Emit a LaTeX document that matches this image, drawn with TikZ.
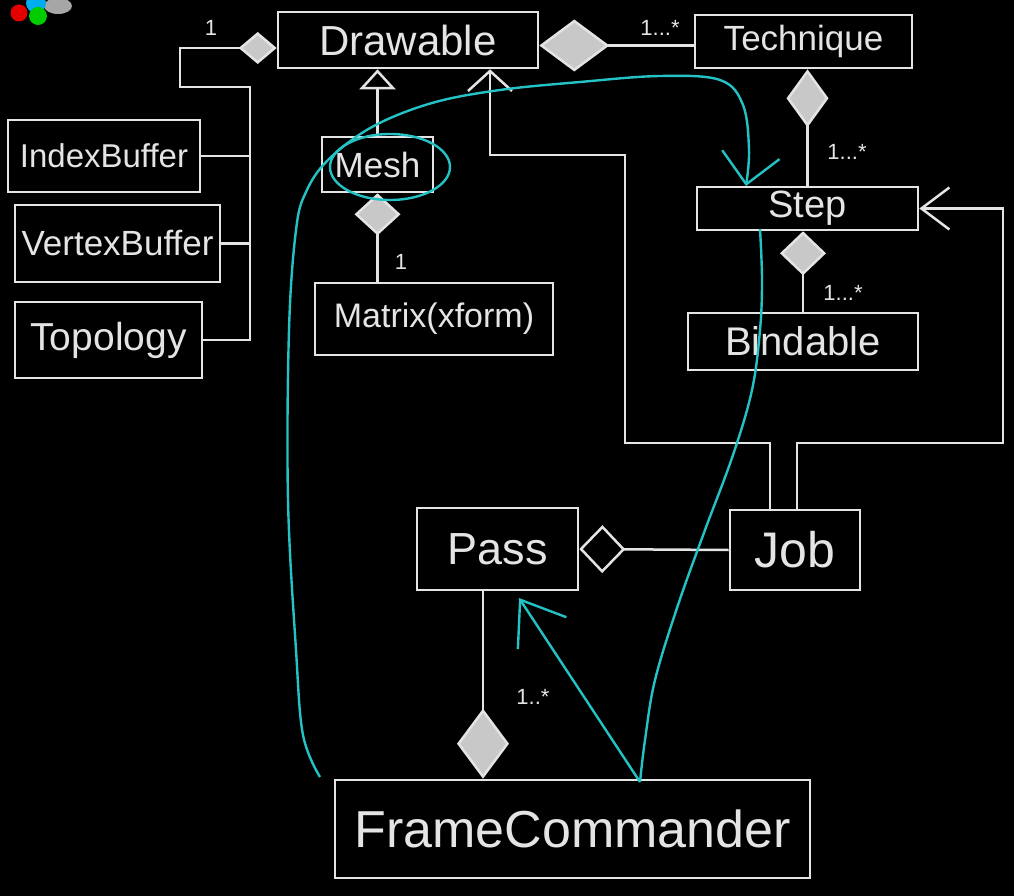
\documentclass[tikz,border=0pt]{standalone}
\usepackage{fontspec}
\setmainfont{Liberation Sans}
\usetikzlibrary{arrows.meta}
\definecolor{chalk}{RGB}{228,228,228}
\definecolor{hatch}{RGB}{200,200,200}
\definecolor{ink}{RGB}{36,194,196}
\tikzset{
  cls/.style={draw=chalk, line width=2.6pt, text=chalk, inner sep=0pt, rectangle},
  wire/.style={draw=chalk, line width=2.5pt},
  note/.style={draw=ink, line width=2.4pt},
  mult/.style={text=chalk, font=\fontsize{22}{22}\selectfont, inner sep=0pt},
  comp/.style 2 args={-{Diamond[length=#1, width=#2, fill=hatch]}},
  agg/.style={-{Diamond[open, length=46pt, width=48pt]}},
  inh/.style={-{Triangle[open, length=20pt, width=36pt]}},
  bar/.style={-{Straight Barb[length=20pt, width=44pt]}},
}
\begin{document}
\begin{tikzpicture}[x=1pt, y=-1pt]
\fill[black] (0,0) rectangle (1014,896);
\useasboundingbox (0,0) rectangle (1014,896);
% palette dots
\fill[red!90!black] (19,13) circle (8.5);
\fill[gray!70] (58,6) ellipse [x radius=14, y radius=8];
\fill[cyan] (36,3) circle (10);
\fill[green!80!black] (38,16) circle (9);

% classes
\node[cls, minimum width=260pt, minimum height=56pt, font=\fontsize{42}{44}\selectfont] (Drawable) at (408,40) {Drawable};
\node[cls, minimum width=217pt, minimum height=53pt, font=\fontsize{35}{37}\selectfont] (Technique) at (803.5,41.5) {Technique};
\node[cls, minimum width=192pt, minimum height=72pt, font=\fontsize{33}{35}\selectfont] (IndexBuffer) at (104,156) {IndexBuffer};
\node[cls, minimum width=205pt, minimum height=77pt, font=\fontsize{35}{37}\selectfont] (VertexBuffer) at (117.5,243.5) {VertexBuffer};
\node[cls, minimum width=187pt, minimum height=76pt, font=\fontsize{39}{41}\selectfont] (Topology) at (108.5,340) {Topology};
\node[cls, minimum width=111pt, minimum height=55pt, font=\fontsize{35}{37}\selectfont] (Mesh) at (377.5,164.5) {Mesh};
\node[cls, minimum width=238pt, minimum height=72pt, font=\fontsize{34}{36}\selectfont] (Matrix) at (434,319) {Matrix(xform)};
\node[cls, minimum width=221pt, minimum height=43pt, font=\fontsize{38}{40}\selectfont] (Step) at (807.5,208.5) {Step};
\node[cls, minimum width=230pt, minimum height=57pt, font=\fontsize{40}{42}\selectfont] (Bindable) at (803,341.5) {Bindable};
\node[cls, minimum width=161pt, minimum height=82pt, font=\fontsize{45}{47}\selectfont] (Pass) at (497.5,549) {Pass};
\node[cls, minimum width=130pt, minimum height=80pt, font=\fontsize{50}{52}\selectfont] (Job) at (795,550) {Job};
\node[cls, minimum width=475pt, minimum height=98pt, font=\fontsize{52}{54}\selectfont] (Frame) at (572.5,829) {FrameCommander};

% Drawable aggregates buffers
\coordinate (busB) at (250,87);
\coordinate (busA) at (180,87);
\coordinate (busT) at (180,48);
\draw[wire, comp={38pt}{32pt}] (Topology.east) -| (busB) -- (busA) -- (busT) -- (busT -| Drawable.west);
\draw[wire] (IndexBuffer.east) -- (IndexBuffer.east -| busB);
\draw[wire] (VertexBuffer.east) -- (VertexBuffer.east -| busB);
\node[mult] (m0) at (211,28) {1};

% Mesh inherits Drawable
\draw[wire, inh] (Mesh.north) -- (Mesh.north |- Drawable.south);
% Mesh has Matrix
\draw[wire, comp={42pt}{46pt}] (Matrix.north -| Mesh.south) -- (Mesh.south);
\node[mult] (m1) at (401,262) {1};

% Technique - Drawable
\draw[wire, {Diamond[length=70pt, width=52pt, fill=hatch]}-] ([yshift=-4pt]Technique.west -| Drawable.east) -- ([yshift=-4pt]Technique.west);
\node[mult] (m2) at (660,28) {1...*};

% Technique - Step
\draw[wire, comp={58pt}{42pt}] (Step.north) -- (Step.north |- Technique.south);
\node[mult] (m3) at (847,152) {1...*};

% Step - Bindable
\draw[wire, comp={44pt}{46pt}] (Bindable.north) -- (Bindable.north |- Step.south);
\node[mult] (m4) at (843,293) {1...*};

% Job - Drawable
\coordinate (j1) at (625,443);
\coordinate (j2) at (625,155);
\coordinate (j3) at (490,155);
\draw[wire, bar] ([xshift=-25pt]Job.north) |- (j1) -- (j2) -- (j3) -- (j3 |- Drawable.south);

% Job - Step
\coordinate (k1) at (1003,443);
\draw[wire, -{Straight Barb[length=28pt, width=42pt]}] ([xshift=2pt]Job.north) |- (k1) |- (Step.east);

% Pass <> Job
\draw[wire, agg] (Job.west) -- (Pass.east);

% FrameCommander - Pass
\draw[wire, comp={70pt}{52pt}] ([xshift=-14.5pt]Pass.south) -- ([xshift=-14.5pt]Pass.south |- Frame.north);
\node[mult] (m5) at (533,697) {1..*};

% cyan annotations
\coordinate (c1) at (320,777);
\coordinate (c2) at (640,782);
\coordinate (c3) at (519,598);
\draw[note, -{Straight Barb[length=30pt, width=58pt]}] plot[smooth, tension=0.6] coordinates {(c1) (303,735) (296,650) (288,500) (289,330) (296,230) (306,192) (328,160) (372,127) (432,103) (500,90) (580,82) (660,76) (720,80) (743,105) (749,150) (746,186)};
\draw[note] (390,167) ellipse [x radius=60, y radius=33];
\draw[note, -{Straight Barb[length=40pt, width=58pt]}] (c2) -- (c3);
\draw[note] plot[smooth, tension=0.6] coordinates {(c2) (645,740) (655,680) (678,605) (705,530) (733,455) (752,390) (760,330) (762,280) (760,229)};
\end{tikzpicture}
\end{document}
